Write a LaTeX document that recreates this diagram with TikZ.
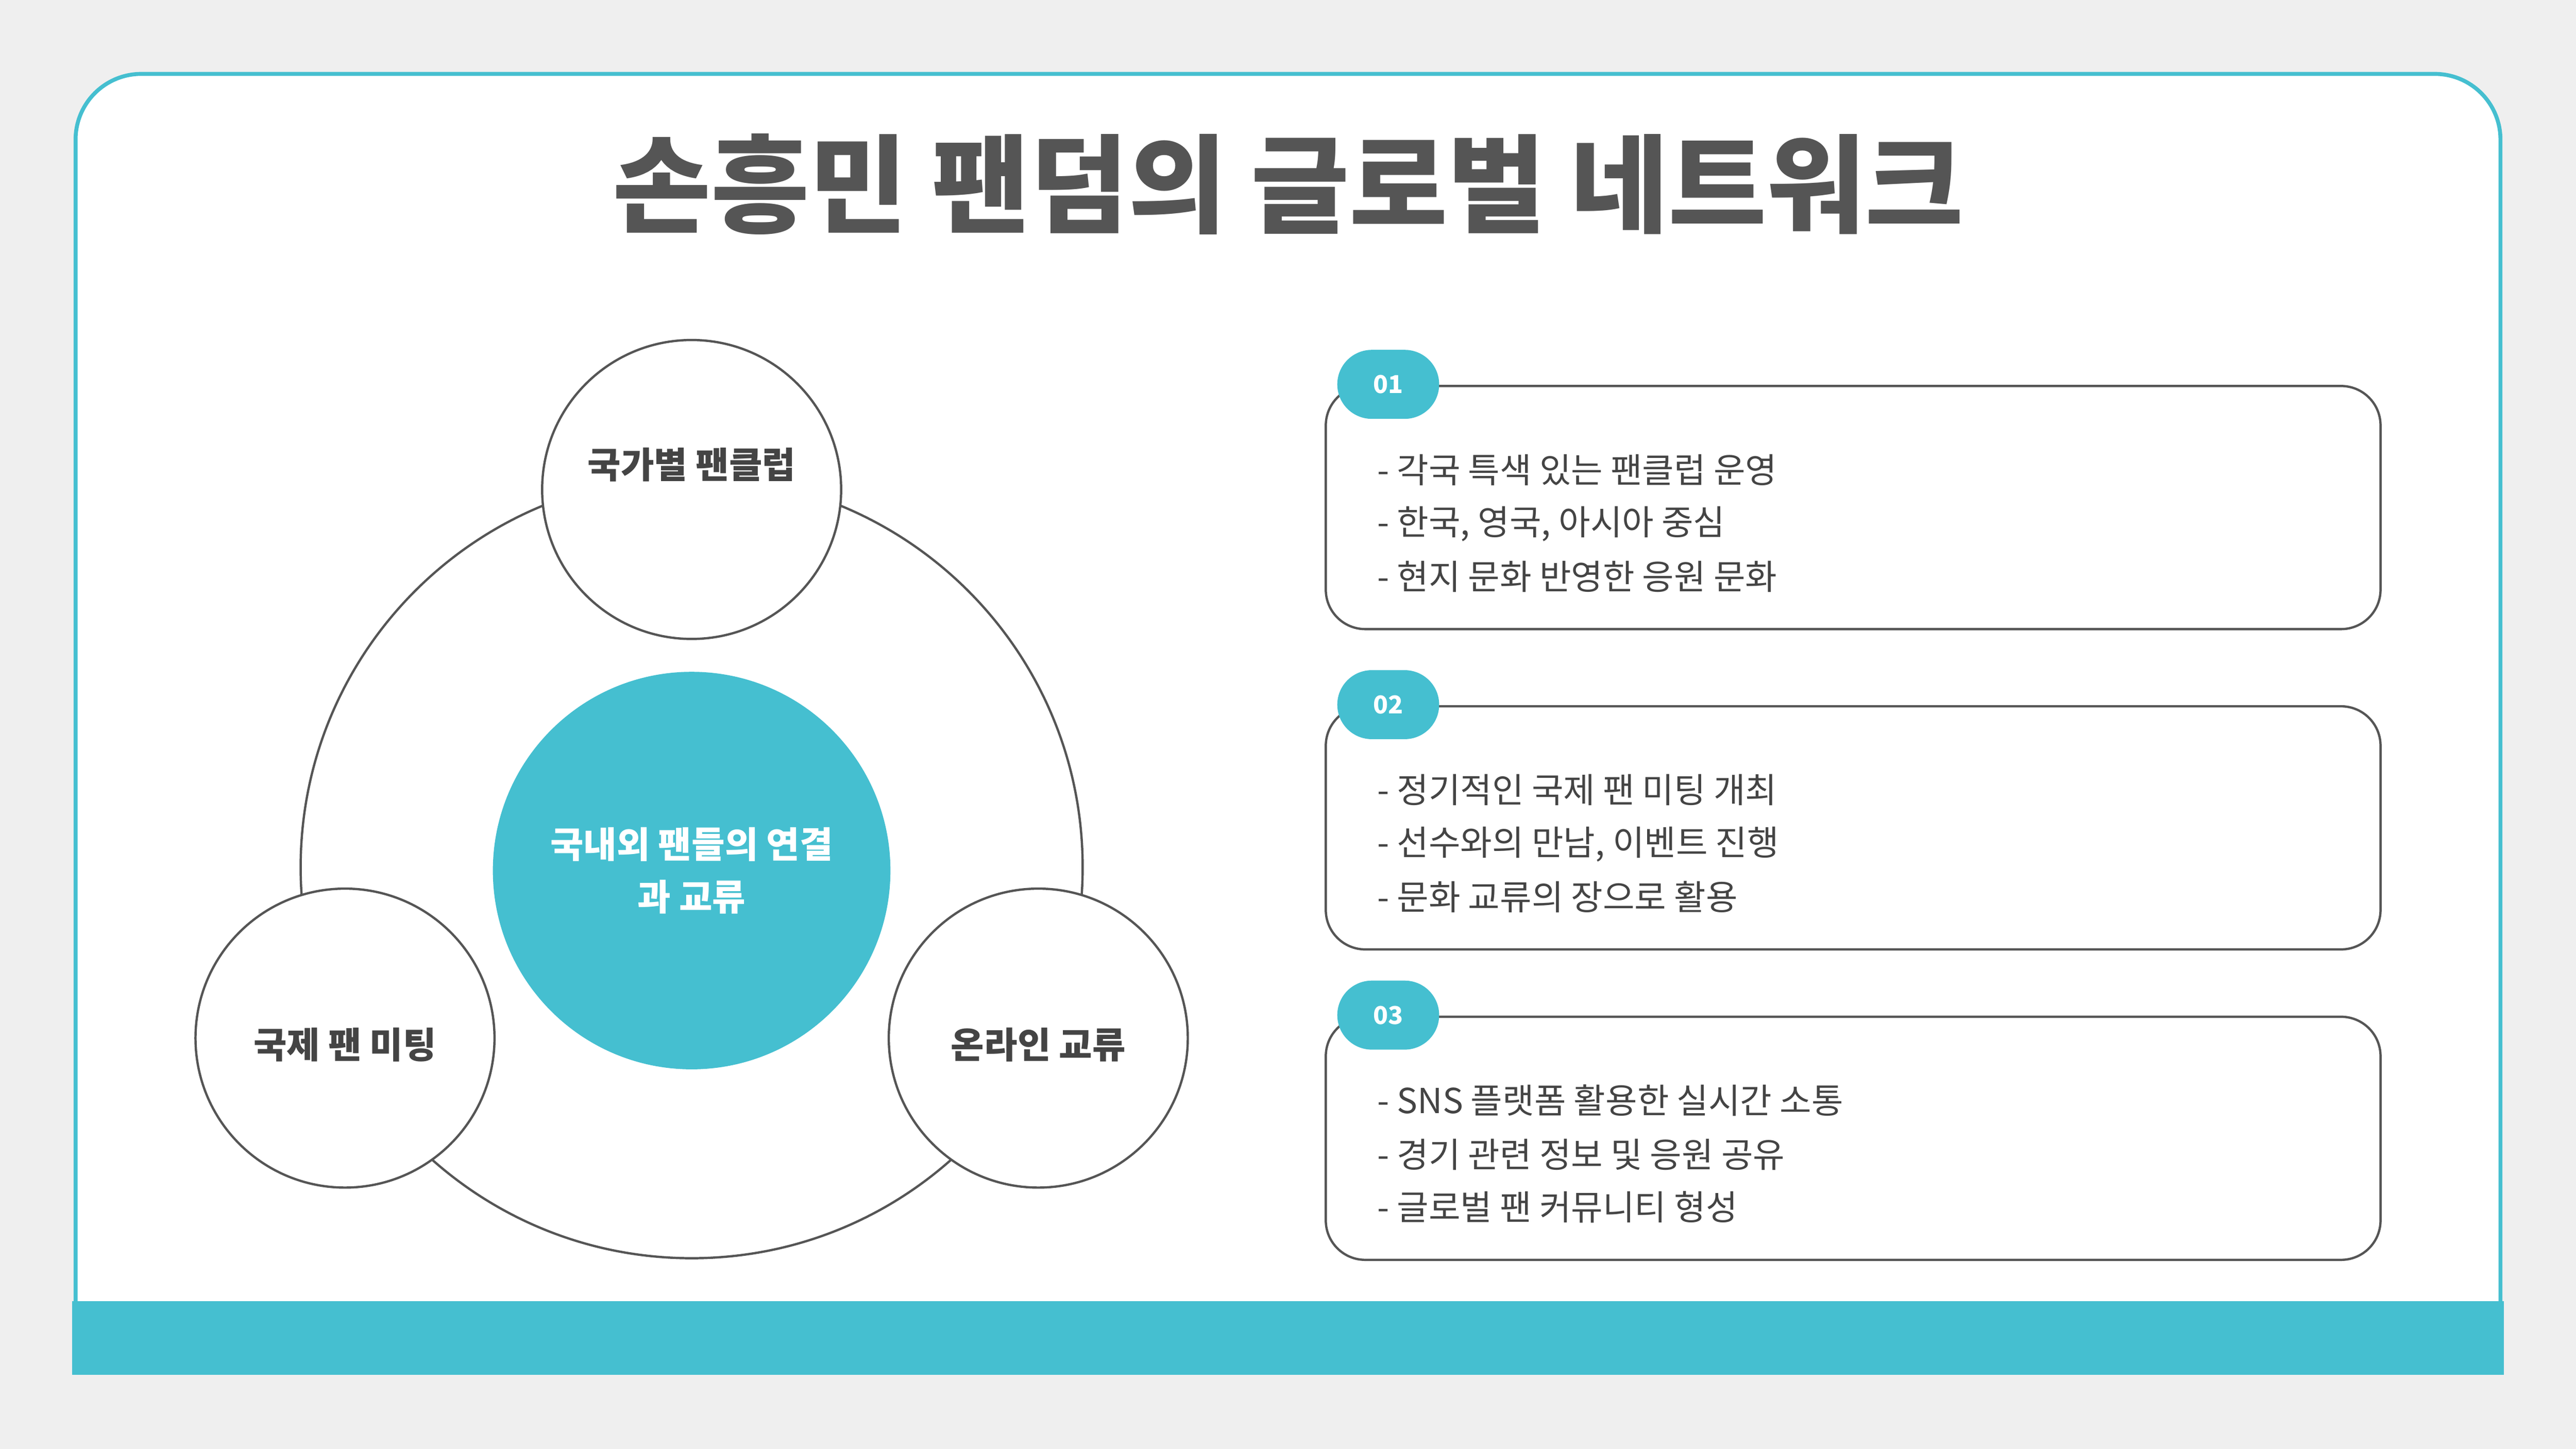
\documentclass[tikz,border=0pt]{standalone}
\usepackage{fontspec}
\setmainfont{Noto Sans CJK KR}
\definecolor{teal}{HTML}{45BFD0}
\definecolor{bg}{HTML}{EFEFEF}
\definecolor{ink}{HTML}{555555}
\definecolor{txt}{HTML}{444444}
\begin{document}
\begin{tikzpicture}[x=0.5pt,y=-0.5pt,
  ring/.style={circle,draw=ink,line width=0.7pt,fill=white,minimum size=91pt,inner sep=0pt},
  lbl/.style={font=\bfseries\fontsize{11}{13}\selectfont,text=txt},
  card/.style={draw=ink,line width=0.7pt,rounded corners=12pt,fill=white},
  badge/.style={fill=teal,rounded corners=10.5pt,minimum width=31pt,minimum height=21pt,inner sep=0pt,text=white,font=\bfseries\fontsize{7.5}{9}\selectfont},
  item/.style={anchor=west,text=txt,font=\fontsize{10.5}{12}\selectfont,inner sep=0pt}]
\fill[bg] (0,0) rectangle (1568,882);
\useasboundingbox (0,0) rectangle (1568,882);
\draw[teal,line width=1.2pt,fill=white,rounded corners=20pt] (46,836) -- (46,45) -- (1522,45) -- (1522,836);
\fill[teal] (44,792) rectangle (1524,837);
\node[text=ink,font=\bfseries\fontsize{32.5}{36}\selectfont] (title) at (784,112) {손흥민 팬덤의 글로벌 네트워크};
\node[circle,draw=ink,line width=0.7pt,minimum size=238pt,inner sep=0pt] (big) at (421,528) {};
\node[circle,fill=teal,minimum size=121pt,inner sep=0pt,text=white,align=center,font=\bfseries\fontsize{11}{16}\selectfont] (core) at (421,530) {국내외 팬들의 연결\\과 교류};
\node[ring] (top) at (421,298) {};
\node[ring] (left) at (210,632) {};
\node[ring] (right) at (632,632) {};
\node[lbl] (toplbl) at (421,283) {국가별 팬클럽};
\node[lbl] (leftlbl) at (210,636) {국제 팬 미팅};
\node[lbl] (rightlbl) at (632,636) {온라인 교류};
\foreach \y/\n/\a/\b/\c in {235/01/{- 각국 특색 있는 팬클럽 운영}/{- 한국, 영국, 아시아 중심}/{- 현지 문화 반영한 응원 문화},
  430/02/{- 정기적인 국제 팬 미팅 개최}/{- 선수와의 만남, 이벤트 진행}/{- 문화 교류의 장으로 활용},
  619/03/{- SNS 플랫폼 활용한 실시간 소통}/{- 경기 관련 정보 및 응원 공유}/{- 글로벌 팬 커뮤니티 형성}}{
  \draw[card] (807,\y) rectangle (1449,\y+148);
  \node[badge] (b\n) at (845,\y-1) {\n};
  \node[item] (i\n a) at (838,\y+51) {\a};
  \node[item] (i\n b) at (838,\y+84) {\b};
  \node[item] (i\n c) at (838,\y+116) {\c};
}
\end{tikzpicture}
\end{document}
